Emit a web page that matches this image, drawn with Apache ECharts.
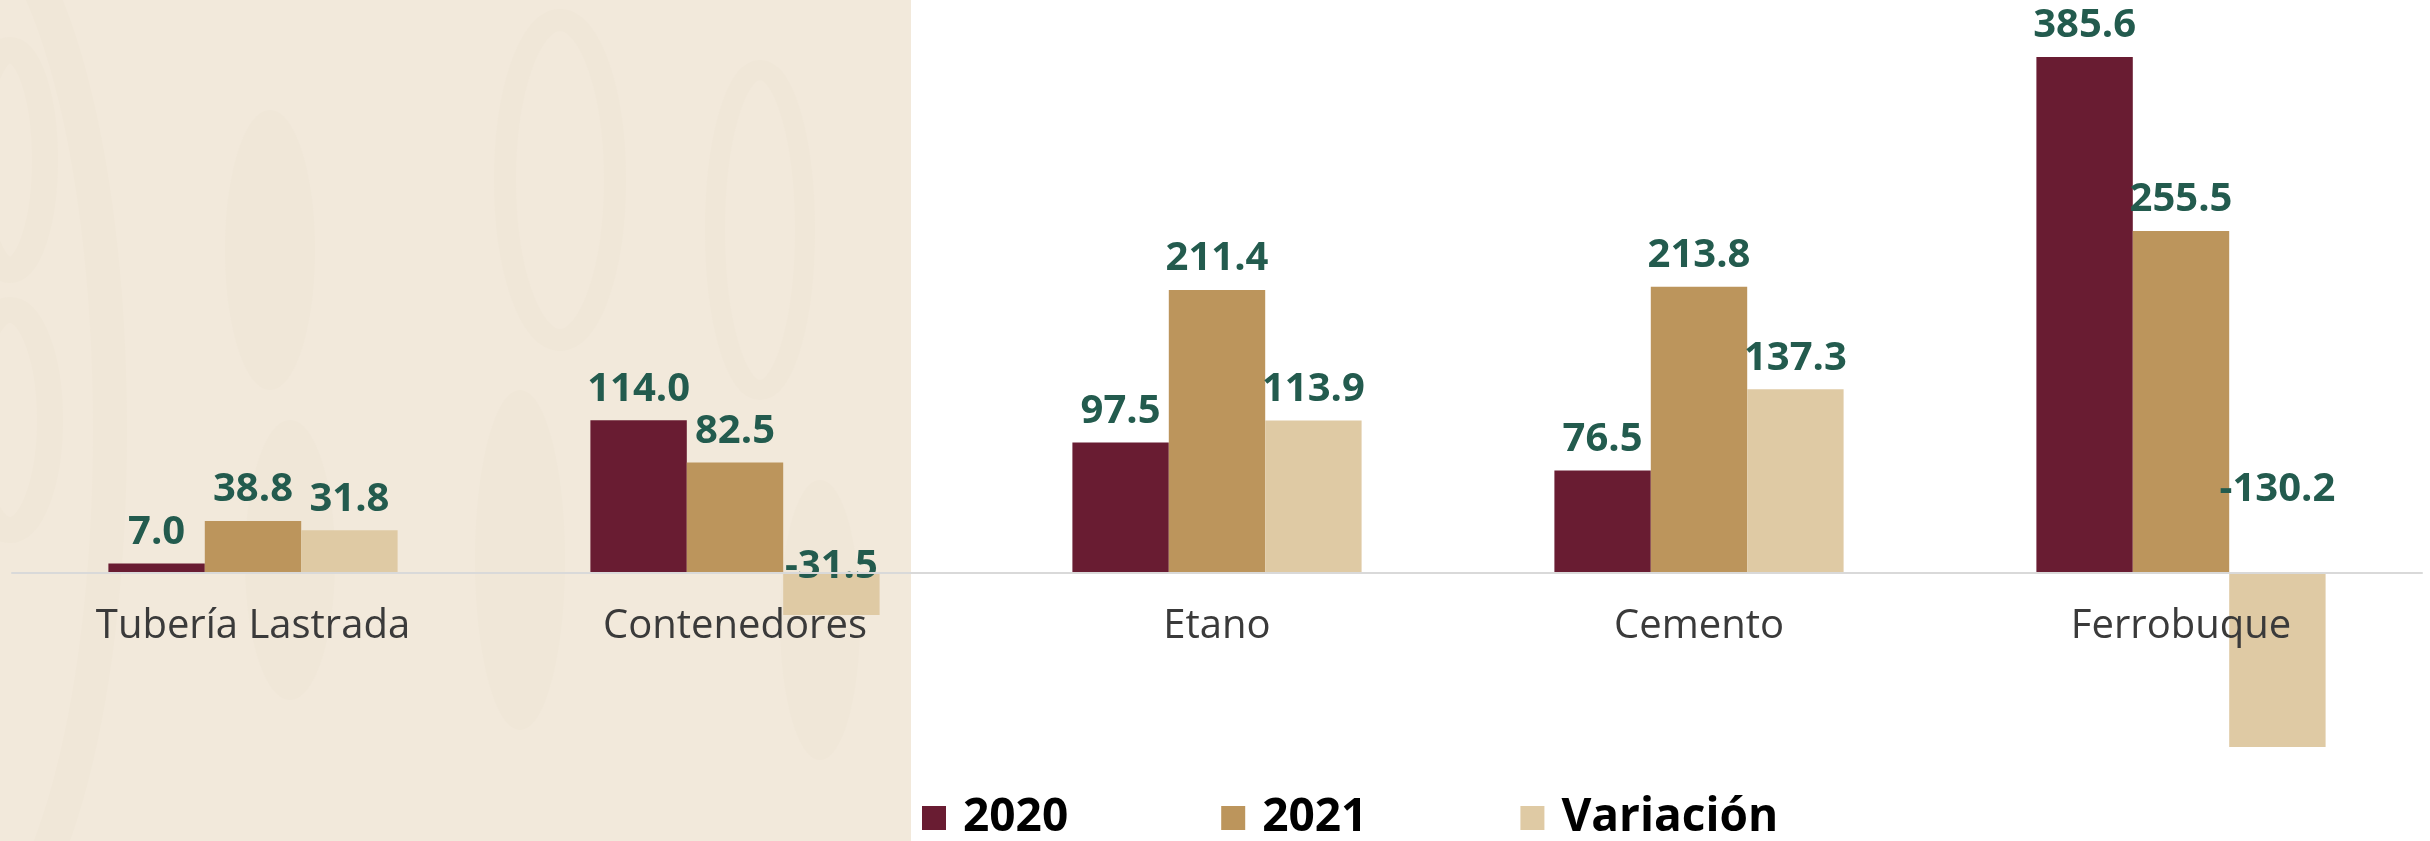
<!DOCTYPE html>
<html>
<head>
<meta charset="utf-8">
<script src="https://cdn.jsdelivr.net/npm/echarts@6/dist/echarts.min.js"></script>
<style>
  html, body { margin: 0; padding: 0; background: #ffffff; }
  #chart { width: 2430px; height: 841px; }
</style>
</head>
<body>
<div id="chart"></div>
<script>
// data
const categories = ['Tubería Lastrada', 'Contenedores', 'Etano', 'Cemento', 'Ferrobuque']
const values2020 = [7.0, 114.0, 97.5, 76.5, 385.6]
const values2021 = [38.8, 82.5, 211.4, 213.8, 255.5]
const variacion = [31.8, -31.5, 113.9, 137.3, -130.2]
const seriesNames = ['2020', '2021', 'Variación']

const colors = ['#691C32', '#BC955C', '#DFCAA4']
const labelGreen = '#235B4E'

// the negative labels sit at hand-placed spots in the original
const labelOffsets = { 1: [0, 25], 4: [0, -52] }

const allValues = values2020.concat(values2021, variacion)
const yMin = Math.min(...allValues)
const yMax = Math.max(...allValues)

const chart = echarts.init(document.getElementById('chart'))

const valueLabel = {
  show: true,
  position: 'top',
  distance: 11,
  color: labelGreen,
  fontFamily: 'Open Sans',
  fontWeight: 'bold',
  fontSize: 40,
  formatter: (p) => p.value.toFixed(1)
}

function makeSeries(name, values, idx) {
  return {
    name,
    type: 'bar',
    barGap: '0%',
    barCategoryGap: '40%',
    itemStyle: { color: colors[idx] },
    label: valueLabel,
    data: values.map((v, i) => {
      if (v < 0 && labelOffsets[i]) {
        return { value: v, label: { offset: labelOffsets[i] } }
      }
      return v
    })
  }
}

// barely visible watermark on the beige panel
const patternFill = '#F0E7D8'
const pattern = [
  { type: 'ellipse', shape: { cx: -40, cy: 430, rx: 150, ry: 520 }, style: { fill: 'none', stroke: patternFill, lineWidth: 34 } },
  { type: 'ellipse', shape: { cx: 10, cy: 160, rx: 35, ry: 110 }, style: { fill: 'none', stroke: patternFill, lineWidth: 26 } },
  { type: 'ellipse', shape: { cx: 10, cy: 420, rx: 40, ry: 110 }, style: { fill: 'none', stroke: patternFill, lineWidth: 26 } },
  { type: 'ellipse', shape: { cx: 270, cy: 250, rx: 45, ry: 140 }, style: { fill: patternFill } },
  { type: 'ellipse', shape: { cx: 290, cy: 560, rx: 45, ry: 140 }, style: { fill: patternFill } },
  { type: 'ellipse', shape: { cx: 560, cy: 180, rx: 55, ry: 160 }, style: { fill: 'none', stroke: patternFill, lineWidth: 22 } },
  { type: 'ellipse', shape: { cx: 520, cy: 560, rx: 45, ry: 170 }, style: { fill: patternFill } },
  { type: 'ellipse', shape: { cx: 760, cy: 230, rx: 45, ry: 160 }, style: { fill: 'none', stroke: patternFill, lineWidth: 20 } },
  { type: 'ellipse', shape: { cx: 820, cy: 620, rx: 40, ry: 140 }, style: { fill: patternFill } }
].map((g) => Object.assign(g, { z: -9, silent: true }))

const option = {
  backgroundColor: '#ffffff',
  animation: false,
  graphic: [{
    type: 'group',
    silent: true,
    clipPath: { type: 'rect', shape: { x: 0, y: 0, width: 911, height: 841 } },
    children: [{
      type: 'rect',
      z: -10,
      shape: { x: 0, y: 0, width: 911, height: 841 },
      style: { fill: '#F2E9DB' }
    }].concat(pattern)
  }],
  legend: {
    left: 917,
    top: 790,
    itemWidth: 24,
    itemHeight: 24,
    itemGap: 153,
    icon: 'rect',
    textStyle: {
      color: '#000000',
      fontFamily: 'Open Sans',
      fontWeight: 'bold',
      fontSize: 46,
      padding: [0, 0, 0, 12]
    },
    data: seriesNames
  },
  grid: {
    left: 12,
    right: 8,
    top: 57,
    bottom: 94,
    containLabel: false
  },
  xAxis: {
    type: 'category',
    data: categories,
    z: 5,
    axisLine: { show: true, lineStyle: { color: '#D9D9D9', width: 2 } },
    axisTick: { show: false },
    axisLabel: {
      margin: -140,
      color: '#3A3A3A',
      fontFamily: 'Open Sans',
      fontSize: 40
    }
  },
  yAxis: {
    type: 'value',
    min: yMin,
    max: yMax,
    show: false,
    splitLine: { show: false }
  },
  series: [
    makeSeries(seriesNames[0], values2020, 0),
    makeSeries(seriesNames[1], values2021, 1),
    makeSeries(seriesNames[2], variacion, 2)
  ]
}

chart.setOption(option)
</script>
</body>
</html>
